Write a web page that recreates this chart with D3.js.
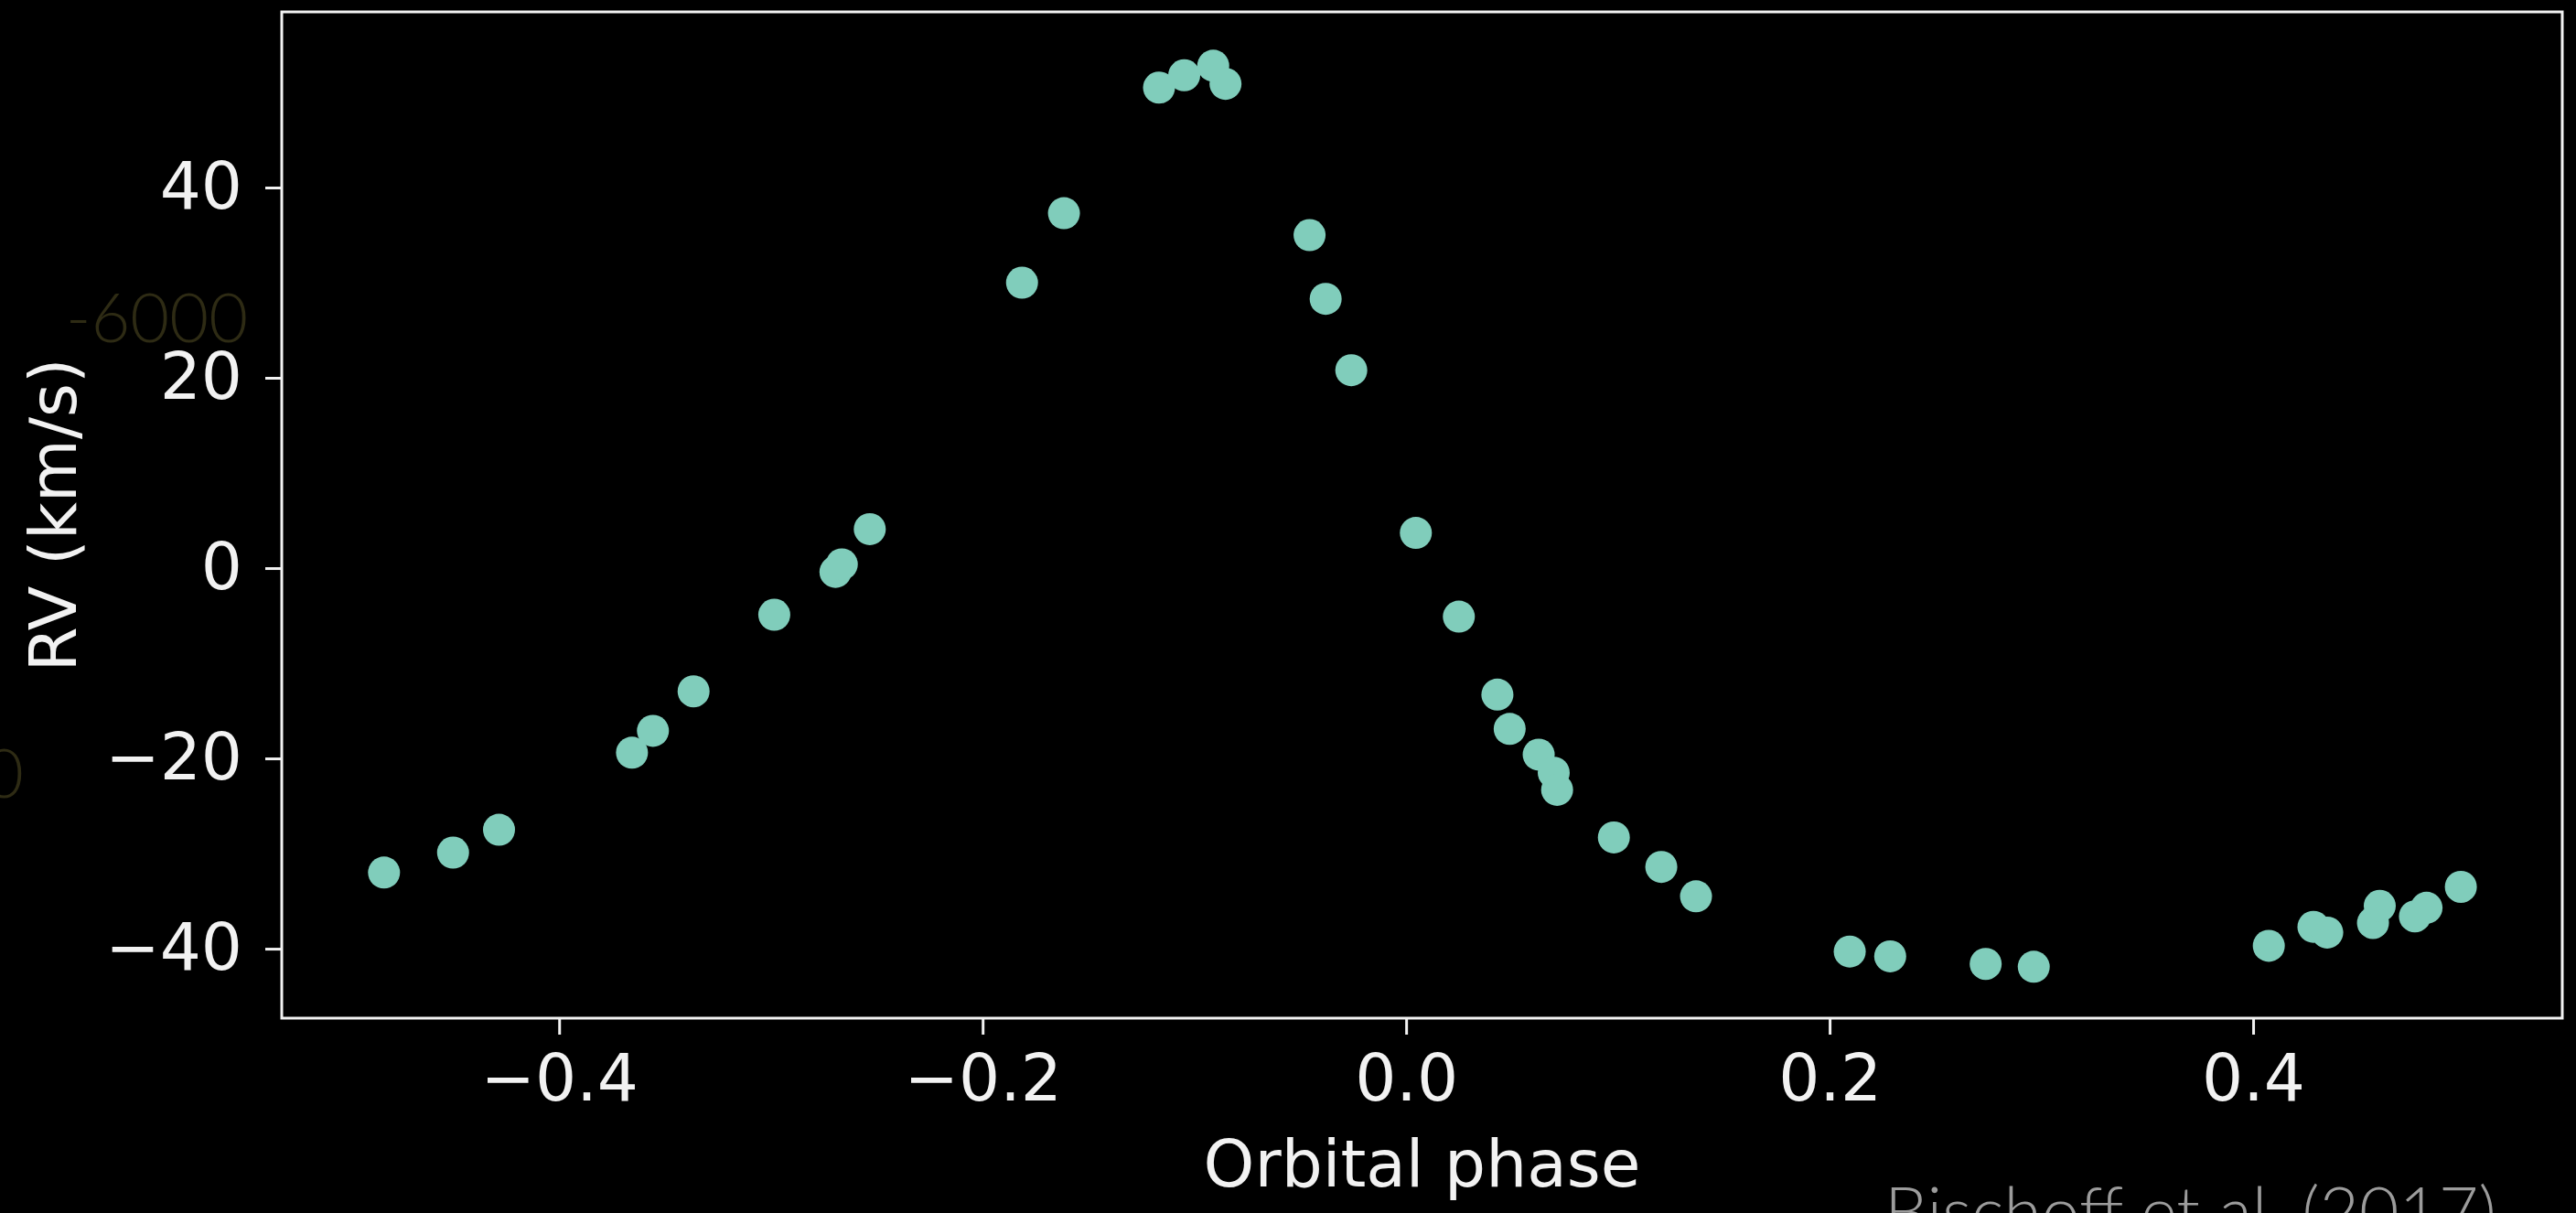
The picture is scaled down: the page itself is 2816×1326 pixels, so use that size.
<!DOCTYPE html>
<meta charset="utf-8">
<style>
  body { margin: 0; background: #000; }
  svg { display: block; }
</style>

<!-- Load d3.js -->
<script src="https://d3js.org/d3.v7.min.js"></script>

<div id="rv_plot"></div>
<script>

// radial velocity curve
var phase = [-0.4827, -0.4501, -0.4284, -0.3656, -0.3557, -0.3365, -0.2984, -0.2695, -0.2665,
             -0.2533, -0.1814, -0.1616, -0.1167, -0.1048, -0.0911, -0.0853, -0.0456, -0.0380,
             -0.0259, 0.0046, 0.0249, 0.0431, 0.0489, 0.0626, 0.0697, 0.0713, 0.0981, 0.1205,
             0.1369, 0.2095, 0.2286, 0.2737, 0.2964, 0.4074, 0.4285, 0.4350, 0.4566, 0.4598,
             0.4764, 0.4819, 0.4981];
var rv = [-32.0, -29.9, -27.5, -19.4, -17.1, -12.95, -4.9, -0.4, 0.4,
          4.1, 30.0, 37.3, 50.5, 51.8, 52.8, 50.9, 35.0, 28.3,
          20.8, 3.7, -5.1, -13.3, -16.9, -19.6, -21.5, -23.3, -28.3, -31.4,
          -34.5, -40.3, -40.8, -41.6, -41.9, -39.7, -37.7, -38.3, -37.3, -35.5,
          -36.6, -35.7, -33.5];

var xTicks = [-0.4, -0.2, 0.0, 0.2, 0.4];
var yTicks = [-40, -20, 0, 20, 40];
var xLimits = [-0.531, 0.546];
var yLimits = [-47.3, 58.46];

var xLabel = "Orbital phase";
var yLabel = "RV (km/s)";
var credit = "Bischoff et al. (2017)";

// page and plot box
var W = 2816, H = 1326;
var margin = {top: 13, right: 15, bottom: 213, left: 308},
    width = W - margin.left - margin.right,
    height = H - margin.top - margin.bottom;

var fg = "#f2f2f2";
var dotColor = "#80cdbb";
var font = "'DejaVu Sans', sans-serif";

var svg = d3.select("#rv_plot")
  .append("svg")
    .attr("width", W)
    .attr("height", H)
    .style("background", "#000");

// faint leftovers of the slide background
svg.append("text")
    .attr("x", 72)
    .attr("y", 374)
    .attr("font-family", "Lato, sans-serif")
    .attr("font-weight", 300)
    .attr("font-size", 74)
    .attr("fill", "#2e2b14")
    .text("-6000");
svg.append("text")
    .attr("x", 26)
    .attr("y", 872)
    .attr("text-anchor", "end")
    .attr("font-family", "Lato, sans-serif")
    .attr("font-weight", 300)
    .attr("font-size", 74)
    .attr("fill", "#2e2b14")
    .text("0");

var g = svg.append("g")
    .attr("transform", "translate(" + margin.left + "," + margin.top + ")");

var x = d3.scaleLinear().domain(xLimits).range([0, width]);
var y = d3.scaleLinear().domain(yLimits).range([height, 0]);

// X axis
var xAxis = g.append("g")
    .attr("transform", "translate(0," + height + ")")
    .call(d3.axisBottom(x).tickValues(xTicks).tickFormat(d3.format(".1f"))
      .tickSizeInner(18).tickSizeOuter(0).tickPadding(22));

// Y axis
var yAxis = g.append("g")
    .call(d3.axisLeft(y).tickValues(yTicks).tickFormat(d3.format("d"))
      .tickSizeInner(18).tickSizeOuter(0).tickPadding(25));

[xAxis, yAxis].forEach(function(a) {
  a.select(".domain").remove();
  a.selectAll(".tick line").attr("stroke", fg).attr("stroke-width", 3);
  a.selectAll(".tick text")
    .attr("fill", fg)
    .attr("font-family", font)
    .attr("font-size", 71);
});

// frame
g.append("rect")
    .attr("x", 0)
    .attr("y", 0)
    .attr("width", width)
    .attr("height", height)
    .attr("fill", "none")
    .attr("stroke", fg)
    .attr("stroke-width", 3);

// points
g.selectAll("circle.pt")
  .data(d3.range(phase.length))
  .enter()
  .append("circle")
    .attr("class", "pt")
    .attr("cx", function(i) { return x(phase[i]); })
    .attr("cy", function(i) { return y(rv[i]); })
    .attr("r", 17.5)
    .attr("fill", dotColor);

// axis labels
g.append("text")
    .attr("x", width / 2)
    .attr("y", height + 184)
    .attr("text-anchor", "middle")
    .attr("fill", fg)
    .attr("font-family", font)
    .attr("font-size", 71)
    .text(xLabel);

g.append("text")
    .attr("transform", "translate(" + (83 - margin.left) + "," + (height / 2) + ") rotate(-90)")
    .attr("text-anchor", "middle")
    .attr("fill", fg)
    .attr("font-family", font)
    .attr("font-size", 71)
    .text(yLabel);

// credit line, partly cut off at the bottom edge
var cr = svg.append("text")
    .attr("x", 2060)
    .attr("font-family", "Lato, 'Open Sans', sans-serif")
    .attr("font-weight", 300)
    .attr("font-size", 80)
    .attr("fill", "#9c9c9c")
    .text(credit);
var fs = 80 * 669 / cr.node().getComputedTextLength();
cr.attr("font-size", fs).attr("y", 1297 + 0.72 * fs);

</script>
